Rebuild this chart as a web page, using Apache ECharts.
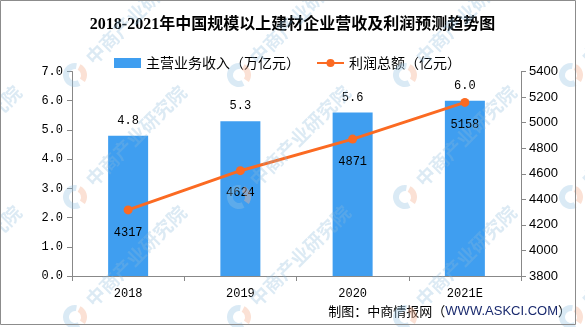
<!DOCTYPE html>
<html>
<head>
<meta charset="utf-8">
<script src="https://cdn.jsdelivr.net/npm/echarts@6/dist/echarts.min.js"></script>
<style>html,body{margin:0;padding:0;background:#fff;}#c{width:585px;height:327px;}</style>
</head>
<body>
<div id="c"></div>
<script>
const categories = ['2018', '2019', '2020', '2021E'];
const revenue = [4.8, 5.3, 5.6, 6.0];
const profit = [4317, 4624, 4871, 5158];
const leftTicks = { min: 0, max: 7, interval: 1 };
const rightTicks = { min: 3800, max: 5400, interval: 200 };
const titleText = '2018-2021年中国规模以上建材企业营收及利润预测趋势图';
const revenueName = '主营业务收入（万亿元）';
const profitName = '利润总额（亿元）';

const CJK = '"Noto Sans CJK SC", sans-serif';
const MONO = '"Liberation Mono", "DejaVu Sans Mono", monospace';

// watermark decoration
const wm = [];
const wx = [-90, 75, 239, 405, 571];
const wy = [75, 197, 317];
wy.forEach(y0 => wx.forEach(x0 => {
  wm.push({
    type: 'arc', z: 100, silent: true,
    shape: { cx: x0, cy: y0, r: 9, startAngle: Math.PI * 0.35, endAngle: Math.PI * 1.55 },
    style: { stroke: 'rgba(150,195,225,0.35)', lineWidth: 6, fill: null }
  });
  wm.push({
    type: 'arc', z: 100, silent: true,
    shape: { cx: x0, cy: y0, r: 9, startAngle: Math.PI * 1.65, endAngle: Math.PI * 2.2 },
    style: { stroke: 'rgba(245,180,150,0.4)', lineWidth: 6, fill: null }
  });
  wm.push({
    type: 'text', z: 100, silent: true,
    x: x0 + 14, y: y0 - 14, rotation: Math.PI / 4,
    style: {
      text: '中商产业研究院', fill: 'rgba(140,185,220,0.3)',
      font: 'bold 19px ' + CJK, align: 'left', verticalAlign: 'middle'
    }
  });
}));
wm.push({
  type: 'rect', z: 101, silent: true,
  shape: { x: 0.5, y: 0.5, width: 575, height: 324 },
  style: { fill: null, stroke: '#8c8c8c', lineWidth: 1 }
});

const chart = echarts.init(document.getElementById('c'));
chart.setOption({
  animation: false,
  backgroundColor: '#fff',
  title: {
    text: titleText, left: 'center', top: 12,
    textStyle: { fontSize: 16, fontWeight: 'bold', color: '#000',
      fontFamily: '"Liberation Serif", ' + CJK }
  },
  legend: {
    top: 51, left: 109, itemGap: 16, itemWidth: 27, itemHeight: 10,
    textStyle: { fontSize: 14, color: '#000', fontFamily: CJK },
    data: [
      { name: revenueName, icon: 'rect' },
      { name: profitName }
    ]
  },
  grid: { left: 72, right: 64, top: 71.5, bottom: 51, containLabel: false },
  xAxis: {
    type: 'category', data: categories,
    axisLine: { lineStyle: { color: '#888' } },
    axisTick: { show: true, length: 5, lineStyle: { color: '#888' } },
    axisLabel: { margin: 12, fontSize: 12, color: '#000', fontFamily: MONO }
  },
  yAxis: [
    {
      type: 'value', min: leftTicks.min, max: leftTicks.max, interval: leftTicks.interval,
      splitLine: { show: false },
      axisLine: { show: true, lineStyle: { color: '#888' } },
      axisTick: { show: true, length: 5, lineStyle: { color: '#888' } },
      axisLabel: { margin: 9, fontSize: 12, color: '#000', fontFamily: MONO,
        formatter: v => v.toFixed(1) }
    },
    {
      type: 'value', min: rightTicks.min, max: rightTicks.max, interval: rightTicks.interval,
      splitLine: { show: false },
      axisLine: { show: true, lineStyle: { color: '#888' } },
      axisTick: { show: true, length: 5, lineStyle: { color: '#888' } },
      axisLabel: { margin: 8, fontSize: 13, color: '#000', fontFamily: '"Liberation Sans", sans-serif',
        formatter: v => String(v) }
    }
  ],
  series: [
    {
      name: revenueName, type: 'bar', data: revenue, barWidth: 40,
      itemStyle: { color: '#3f9ef0' },
      label: { show: true, position: 'top', distance: 9, fontSize: 12, color: '#000',
        fontFamily: MONO, formatter: p => p.value.toFixed(1) }
    },
    {
      name: profitName, type: 'line', yAxisIndex: 1, data: profit,
      symbol: 'circle', symbolSize: 9,
      lineStyle: { color: '#fb6a22', width: 3 },
      itemStyle: { color: '#fb6a22' },
      label: { show: true, position: 'bottom', distance: 12, fontSize: 12, color: '#000',
        fontFamily: MONO, formatter: p => String(p.value) }
    }
  ],
  graphic: [
    {
      type: 'text', right: 14, top: 305, z: 50,
      style: {
        rich: {
          a: { fontSize: 13, fill: '#000', fontFamily: CJK },
          b: { fontSize: 13, fill: '#1a2a6e', fontFamily: '"Liberation Sans", sans-serif' }
        },
        text: '{a|制图：中商情报网（}{b|WWW.ASKCI.COM}{a|）}'
      }
    }
  ].concat(wm)
});
</script>
</body>
</html>
